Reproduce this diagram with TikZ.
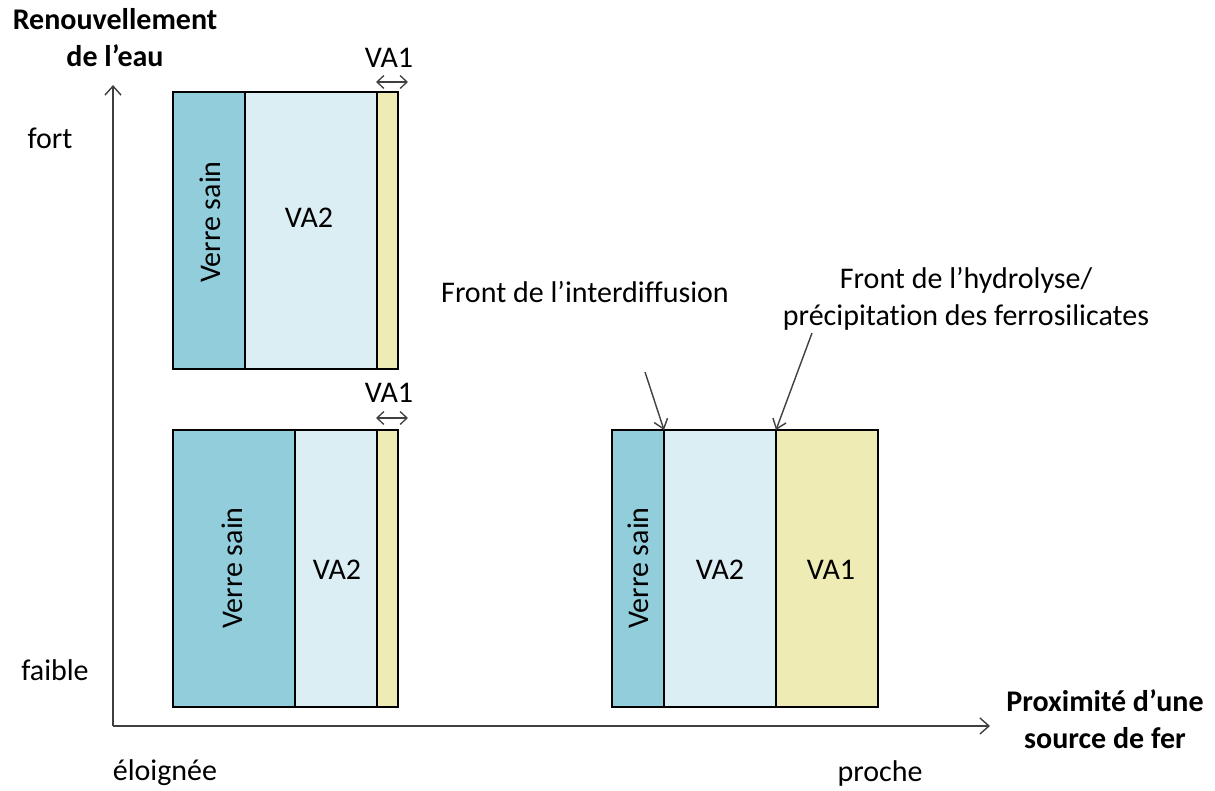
\documentclass[tikz,border=0pt]{standalone}
\usepackage{fontspec}
\setmainfont{Carlito}[Ligatures=NoCommon]
\usetikzlibrary{arrows.meta}
\definecolor{sain}{HTML}{92CDDC}
\definecolor{vatwo}{HTML}{DAEEF3}
\definecolor{vaone}{HTML}{EEECB4}
\definecolor{axisgray}{HTML}{404040}
\tikzset{
  layer/.style={draw=black, line width=1.3pt},
  lbl/.style={font=\fontsize{30}{37}\selectfont, inner sep=0pt},
  blbl/.style={font=\fontsize{30}{37}\selectfont\bfseries, inner sep=0pt, align=center},
  axisline/.style={draw=axisgray, line width=1.4pt, -{Straight Barb[length=9pt,width=16pt,line width=1.4pt]}},
  ptr/.style={draw=axisgray, line width=1.4pt, -{Straight Barb[length=9pt,width=14pt,line width=1.4pt]}},
  dbl/.style={draw=axisgray, line width=1.3pt, {Straight Barb[length=7pt,width=13pt,line width=1.3pt]}-{Straight Barb[length=7pt,width=13pt,line width=1.3pt]}},
}
\begin{document}
\begin{tikzpicture}[x=1pt,y=-1pt]
\useasboundingbox (0,0) rectangle (1215,790);
\fill[white] (0,0) rectangle (1215,790);
% axes
\coordinate (O) at (113,726);
\coordinate (Ytop) at (113,85);
\coordinate (Xend) at (990,726);
\draw[axisline] (O) -- (Ytop);
\draw[axisline] (O) -- (Xend);
% top box
\filldraw[layer, fill=sain] (173,92) rectangle (245,369);
\filldraw[layer, fill=vatwo] (245,92) rectangle (377,369);
\filldraw[layer, fill=vaone] (377,92) rectangle (398,369);
\node[lbl, rotate=90] (vs1) at (210,222) {Verre sain};
\node[lbl] (va21) at (309,218) {VA2};
\node[lbl] (va11) at (389,58) {VA1};
\coordinate (a1l) at (376,82);
\coordinate (a1r) at (408,82);
\draw[dbl] (a1l) -- (a1r);
% bottom-left box
\filldraw[layer, fill=sain] (173,430) rectangle (295,707);
\filldraw[layer, fill=vatwo] (295,430) rectangle (377,707);
\filldraw[layer, fill=vaone] (377,430) rectangle (398,707);
\node[lbl, rotate=90] (vs2) at (232,568) {Verre sain};
\node[lbl] (va22) at (337,570) {VA2};
\node[lbl] (va12) at (389,393) {VA1};
\coordinate (a2l) at (376,418);
\coordinate (a2r) at (408,418);
\draw[dbl] (a2l) -- (a2r);
% right box
\filldraw[layer, fill=sain] (612,430) rectangle (664,707);
\filldraw[layer, fill=vatwo] (664,430) rectangle (776,707);
\filldraw[layer, fill=vaone] (776,430) rectangle (878,707);
\node[lbl, rotate=90] (vs3) at (638,568) {Verre sain};
\node[lbl] (va23) at (720,570) {VA2};
\node[lbl] (va13) at (831,570) {VA1};
% fronts
\node[lbl] (f1) at (585,292) {Front de l’interdiffusion};
\node[lbl, align=center] (f2) at (966,299) {Front de l’hydrolyse/\\précipitat\kern0pt ion des ferrosilicates};
\coordinate (f1s) at (645,372);
\coordinate (f1e) at (664,430);
\coordinate (f2s) at (812,333);
\coordinate (f2e) at (776,430);
\draw[ptr] (f1s) -- (f1e);
\draw[ptr] (f2s) -- (f2e);
% axis labels
\node[blbl] (ylab) at (115,38) {Renouvellement\\de l’eau};
\node[lbl] (fort) at (50,138) {fort};
\node[lbl] (faible) at (55,670) {faible};
\node[lbl] (eloi) at (165,773) {éloignée};
\node[lbl] (proche) at (880,773) {proche};
\node[blbl] (xlab) at (1105,719) {Proximité d’une\\source de fer};
\end{tikzpicture}
\end{document}
